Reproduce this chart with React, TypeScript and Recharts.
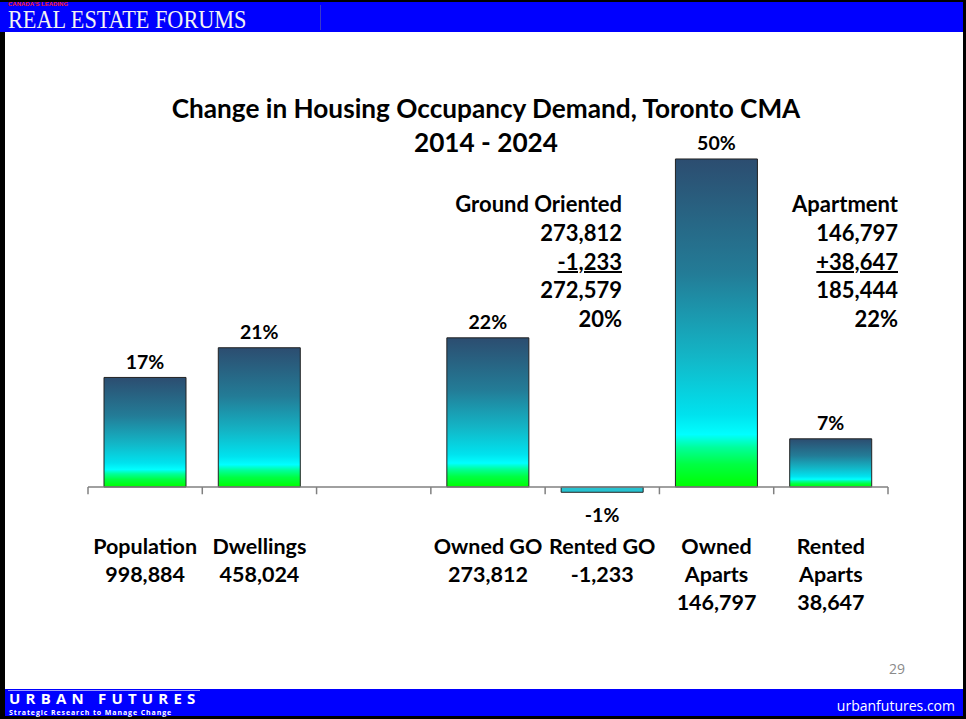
import { Bar, BarChart, Cell, LabelList, ReferenceLine, XAxis, YAxis } from "recharts";

// Toronto CMA, change 2014 - 2024
const categories = ["Population", "Dwellings", "", "Owned GO", "Rented GO", "Owned Aparts", "Rented Aparts"];
const changePct = [16.6, 21.1, null, 22.6, -0.8, 49.7, 7.3];
const pctLabels = ["17%", "21%", "", "22%", "-1%", "50%", "7%"];
const counts = ["998,884", "458,024", "", "273,812", "-1,233", "146,797", "38,647"];
const boundaries = [0, 1, 2, 3, 4, 5, 6, 7];

const groundLines = ["Ground Oriented", "273,812", "-1,233", "272,579", "20%"];
const apartLines = ["Apartment", "146,797", "+38,647", "185,444", "22%"];

const data = categories.map((name, i) => ({
  name,
  idx: i,
  value: changePct[i],
  lines: name.endsWith("Aparts") ? [...name.split(" "), counts[i]] : [name, counts[i]],
}));

const FONT = "Lato, 'Open Sans', sans-serif";

const CategoryTick = ({ x, y, payload, index }: any) => {
  const d = data[index ?? payload.index];
  if (!d || !d.name) return null;
  return (
    <g>
      {d.lines.map((t: string, k: number) => (
        <text
          key={k}
          x={x}
          y={y + 26 + k * 28}
          textAnchor="middle"
          dominantBaseline="central"
          fontFamily={FONT}
          fontWeight={700}
          fontSize={21.5}
          fill="#000"
        >
          {t}
        </text>
      ))}
    </g>
  );
};

const PctLabel = (props: any) => {
  const { x, y, width, height, value } = props;
  if (value === null || value === undefined) return null;
  const i = changePct.indexOf(Number(value));
  const top = Math.min(y, y + height);
  const bottom = Math.max(y, y + height);
  const ty = Number(value) < 0 ? bottom + 22 : top - 16;
  return (
    <text
      x={x + width / 2}
      y={ty}
      textAnchor="middle"
      dominantBaseline="central"
      fontFamily={FONT}
      fontWeight={700}
      fontSize={19.5}
      fill="#000"
    >
      {pctLabels[i]}
    </text>
  );
};

const Block = ({ lines, right }: { lines: string[]; right: number }) => (
  <div
    style={{
      position: "absolute",
      right: 966 - right,
      top: 190,
      textAlign: "right",
      fontFamily: FONT,
      fontWeight: 700,
      fontSize: 22,
      lineHeight: "28.75px",
      color: "#000",
    }}
  >
    {lines.map((t, k) => (
      <div key={k} style={k === 2 ? { textDecoration: "underline", textDecorationThickness: 2 } : undefined}>
        {t}
      </div>
    ))}
  </div>
);

export default function App() {
  return (
    <div style={{ position: "absolute", left: 0, top: 0, width: 966, height: 719, background: "#000", overflow: "hidden" }}>
      <div style={{ position: "absolute", left: 5, top: 2, width: 958, height: 714, background: "#fff" }} />

      {/* header */}
      <div style={{ position: "absolute", left: 0, top: 2, width: 963, height: 30, background: "#0000ff" }} />
      <div style={{ position: "absolute", left: 320, top: 5, width: 1, height: 25, background: "#3a3ac8" }} />
      <div
        style={{
          position: "absolute",
          left: 8,
          top: 1,
          fontFamily: "'Liberation Sans', sans-serif",
          fontWeight: 700,
          fontSize: 6,
          color: "#ff2020",
          lineHeight: "7px",
        }}
      >
        CANADA'S LEADING
      </div>
      <div
        style={{
          position: "absolute",
          left: 8,
          top: 9,
          fontFamily: "'Liberation Serif', serif",
          fontSize: 25,
          lineHeight: "22px",
          color: "#f2f2f2",
          transform: "scaleX(0.89)",
          transformOrigin: "left top",
          whiteSpace: "nowrap",
        }}
      >
        REAL ESTATE FORUMS
      </div>

      {/* title */}
      <div
        style={{
          position: "absolute",
          left: 0,
          width: 972,
          top: 91,
          textAlign: "center",
          fontFamily: FONT,
          fontWeight: 700,
          fontSize: 26.2,
          lineHeight: "34px",
          color: "#000",
        }}
      >
        <div>Change in Housing Occupancy Demand, Toronto CMA</div>
        <div>2014 - 2024</div>
      </div>

      <Block lines={groundLines} right={622} />
      <Block lines={apartLines} right={898} />

      <div style={{ position: "absolute", left: 0, top: 0 }}>
        <BarChart
          width={966}
          height={719}
          data={data}
          margin={{ top: 124, right: 78, bottom: 169, left: 88 }}
          barSize={82}
        >
          <defs>
            <linearGradient id="barGrad" x1="0" y1="0" x2="0" y2="1">
              <stop offset="0" stopColor="#2c4d70" />
              <stop offset="0.35" stopColor="#237c97" />
              <stop offset="0.6" stopColor="#13b5c6" />
              <stop offset="0.78" stopColor="#00e2ee" />
              <stop offset="0.84" stopColor="#00ffff" />
              <stop offset="0.88" stopColor="#00ff9a" />
              <stop offset="0.93" stopColor="#00ff44" />
              <stop offset="1" stopColor="#00ff00" />
            </linearGradient>
          </defs>
          <XAxis
            dataKey="name"
            axisLine={false}
            tickLine={false}
            tickSize={0}
            tickMargin={0}
            height={30}
            interval={0}
            tick={<CategoryTick />}
          />
          <XAxis xAxisId="num" type="number" dataKey="idx" domain={[0, 7]} hide />
          <YAxis hide type="number" domain={[-5, 55]} />
          <ReferenceLine y={0} stroke="#808080" strokeWidth={1.5} />
          {boundaries.map((b) => (
            <ReferenceLine
              key={b}
              xAxisId="num"
              segment={[
                { x: b, y: 0 },
                { x: b, y: -1.1 },
              ]}
              stroke="#808080"
              strokeWidth={1.5}
            />
          ))}
          <Bar dataKey="value" fill="url(#barGrad)" stroke="#222" strokeWidth={1} isAnimationActive={false}>
            {data.map((d, i) => (
              <Cell key={i} fill={d.value !== null && d.value < 0 ? "#27c2d0" : "url(#barGrad)"} />
            ))}
            <LabelList dataKey="value" content={<PctLabel />} />
          </Bar>
        </BarChart>
      </div>

      {/* page number */}
      <div
        style={{
          position: "absolute",
          left: 889,
          top: 659,
          fontFamily: "'Open Sans', sans-serif",
          fontSize: 14,
          color: "#8a8a8a",
        }}
      >
        29
      </div>

      {/* footer */}
      <div style={{ position: "absolute", left: 5, top: 689, width: 958, height: 27, background: "#0000ff" }} />
      <div style={{ position: "absolute", left: 8, top: 690, width: 192, height: 1, background: "#9a9aff" }} />
      <div
        style={{
          position: "absolute",
          left: 9,
          top: 691,
          fontFamily: "'Open Sans', sans-serif",
          fontWeight: 700,
          fontSize: 15,
          letterSpacing: 5.2,
          lineHeight: "15px",
          color: "#fff",
          whiteSpace: "nowrap",
        }}
      >
        URBAN FUTURES
      </div>
      <div
        style={{
          position: "absolute",
          left: 9,
          top: 709,
          fontFamily: "'Open Sans', sans-serif",
          fontWeight: 700,
          fontSize: 7,
          letterSpacing: 0.9,
          lineHeight: "7px",
          color: "#fff",
          whiteSpace: "nowrap",
        }}
      >
        Strategic Research to Manage Change
      </div>
      <div
        style={{
          position: "absolute",
          right: 11,
          top: 697,
          fontFamily: "'Open Sans', sans-serif",
          fontSize: 14,
          lineHeight: "18px",
          color: "#fff",
        }}
      >
        urbanfutures.com
      </div>
    </div>
  );
}
